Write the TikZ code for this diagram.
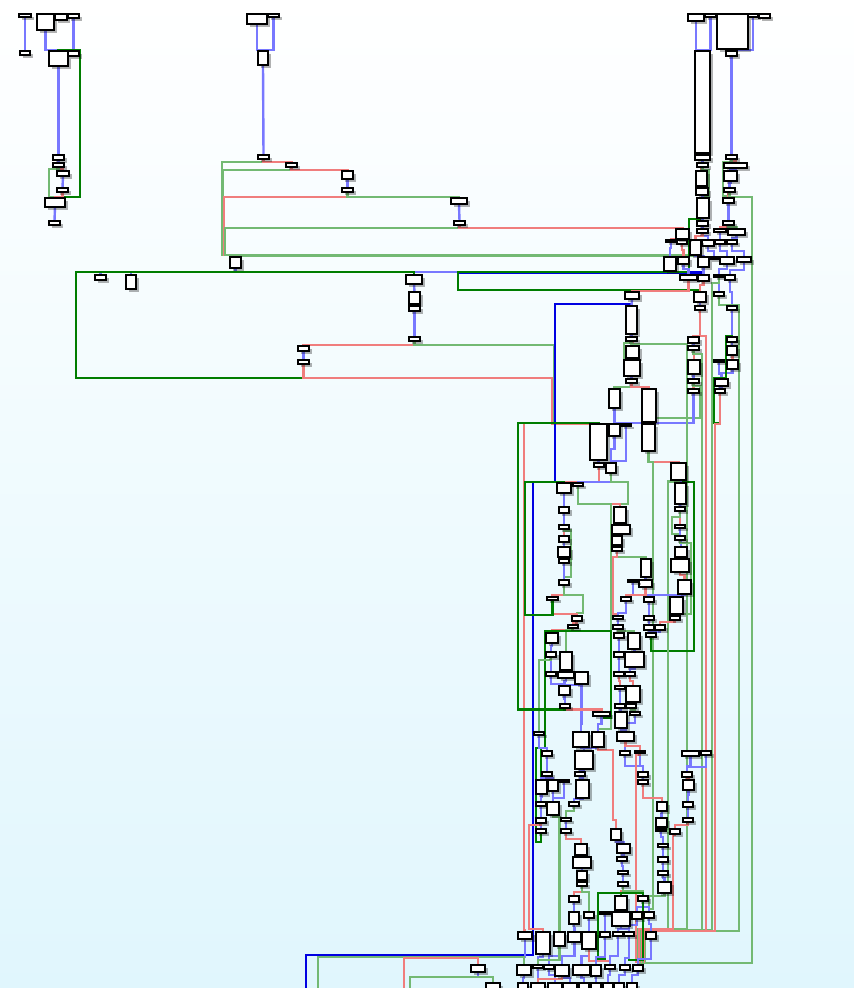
\documentclass[tikz,border=0pt]{standalone}
\usetikzlibrary{shadows}
\definecolor{cb}{RGB}{120,120,255}
\definecolor{cr}{RGB}{240,125,125}
\definecolor{cg}{RGB}{115,185,115}
\definecolor{cgd}{RGB}{0,125,0}
\definecolor{cbd}{RGB}{0,0,225}
\definecolor{bgb}{RGB}{224,246,253}
\pgfdeclarelayer{back}\pgfdeclarelayer{edges}
\pgfsetlayers{back,edges,main}
\tikzset{
 bx/.style={draw=black,line width=1.5pt,fill=white,inner sep=0pt,outer sep=0pt,
   drop shadow={shadow xshift=2.5pt,shadow yshift=-2.5pt,fill=black,opacity=0.3}},
 eb/.style={draw=cb,line width=2.4pt},
 er/.style={draw=cr,line width=2.4pt},
 eg/.style={draw=cg,line width=2.4pt},
 gd/.style={draw=cgd,line width=2.8pt},
 bd/.style={draw=cbd,line width=2.8pt}
}
\newcommand\bb[5]{%
 \pgfmathsetmacro\bbw{#4-#2}\pgfmathsetmacro\bbh{#5-#3}%
 \pgfmathsetmacro\bbx{(#2+#4)/2}\pgfmathsetmacro\bby{(#3+#5)/2}%
 \node[bx,minimum width=\bbw pt,minimum height=\bbh pt] (#1) at (\bbx,\bby) {};}
\begin{document}
\begin{tikzpicture}[x=1pt,y=-1pt]
\useasboundingbox (0,0) rectangle (854,988);
\begin{pgfonlayer}{back}
\shade[top color=white,bottom color=bgb] (0,0) rectangle (854,988);
\end{pgfonlayer}
% ---------- top left
\bb{a1}{19}{14}{31}{17}\bb{a2}{20}{51}{30}{55}
\bb{b1}{37}{14}{54}{30}\bb{b2}{55}{14}{67}{20}\bb{b3}{68}{14}{79}{18}
\bb{c1}{49}{51}{68}{66}\bb{c2}{68}{51}{79}{56}
\bb{d1}{53}{155}{64}{160}\bb{d2}{53}{163}{64}{167}\bb{d3}{57}{171}{69}{176}\bb{d4}{57}{188}{68}{192}
\bb{e1}{45}{198}{65}{207}\bb{e2}{49}{221}{60}{225}
% ---------- top middle
\bb{f1}{247}{14}{267}{24}\bb{f2}{268}{14}{279}{17}\bb{f3}{258}{51}{268}{65}
\bb{g1}{258}{155}{269}{159}\bb{h1}{286}{163}{297}{167}\bb{h2}{342}{171}{353}{179}\bb{h3}{342}{188}{353}{192}
\bb{h4}{451}{198}{467}{204}\bb{h5}{454}{221}{465}{225}\bb{i1}{230}{257}{241}{268}
\bb{l1}{95}{275}{106}{280}\bb{l2}{126}{275}{136}{289}
\bb{j1}{406}{275}{422}{284}\bb{j2}{409}{292}{420}{304}\bb{j3}{409}{306}{420}{311}\bb{j4}{409}{337}{420}{341}
\bb{k1}{298}{346}{309}{351}\bb{k2}{298}{360}{309}{364}
% ---------- top right cluster
\bb{n1}{688}{14}{704}{21}\bb{n2}{705}{14}{716}{17}\bb{n3}{717}{14}{748}{49}\bb{n4}{748}{14}{758}{17}\bb{n5}{759}{14}{770}{18}
\bb{p1}{695}{51}{710}{153}\bb{q1}{726}{51}{737}{56}
\bb{p2}{695}{155}{710}{160}\bb{p3}{697}{163}{708}{167}\bb{p4}{696}{171}{707}{186}\bb{p5}{696}{188}{708}{195}
\bb{p6}{697}{198}{709}{218}\bb{p7}{697}{221}{708}{226}\bb{p8}{697}{229}{708}{233}
\bb{q2}{726}{155}{737}{159}\bb{q3}{724}{163}{747}{168}\bb{q4}{724}{171}{737}{181}\bb{q5}{724}{188}{735}{192}
\bb{q6}{723}{198}{734}{203}\bb{q7}{723}{221}{734}{225}\bb{q8}{714}{229}{726}{232}\bb{q9}{728}{229}{745}{235}
\bb{q10}{715}{240}{725}{244}\bb{q11}{727}{240}{737}{244}
\bb{r1}{702}{240}{714}{246}\bb{r2}{690}{240}{701}{255}\bb{r3}{677}{240}{687}{244}\bb{r0}{666}{240}{676}{242}\bb{r4}{676}{229}{689}{239}
\bb{s1}{664}{257}{676}{271}\bb{s2}{678}{257}{689}{264}\bb{s3}{698}{257}{709}{267}\bb{s4}{709}{257}{719}{259}\bb{s5}{720}{257}{734}{264}\bb{s6}{737}{257}{751}{262}
\bb{t1}{680}{275}{697}{280}\bb{t2}{698}{275}{709}{281}\bb{t3}{714}{275}{724}{277}\bb{t4}{725}{275}{735}{280}
\bb{u1}{694}{292}{706}{302}\bb{u2}{695}{306}{705}{310}\bb{u3}{714}{292}{724}{296}\bb{u4}{727}{306}{737}{310}
\bb{v1}{688}{337}{699}{343}\bb{v2}{688}{346}{699}{350}\bb{v3}{688}{360}{700}{374}\bb{v4}{688}{379}{699}{383}\bb{v5}{688}{389}{699}{393}
\bb{w1}{727}{337}{737}{342}\bb{w2}{727}{346}{737}{355}\bb{w3}{727}{360}{738}{369}\bb{w0}{714}{360}{724}{362}\bb{w4}{715}{379}{728}{386}\bb{w5}{715}{389}{725}{393}
% ---------- centre column
\bb{m1}{625}{292}{639}{299}\bb{m2}{626}{306}{637}{334}\bb{m3}{626}{337}{637}{341}\bb{m4}{626}{346}{639}{358}
\bb{m5}{624}{360}{640}{376}\bb{m6}{626}{379}{637}{383}\bb{m7}{609}{389}{620}{408}\bb{m8}{642}{389}{656}{422}
\bb{m9}{590}{424}{607}{460}\bb{m10}{609}{424}{620}{436}\bb{m11}{621}{424}{631}{426}\bb{m12}{642}{424}{655}{451}
\bb{m13}{594}{463}{604}{467}\bb{m14}{606}{463}{616}{473}\bb{m15}{671}{463}{686}{480}
\bb{x1}{557}{483}{571}{493}\bb{x0}{573}{483}{583}{486}\bb{x2}{559}{507}{569}{513}\bb{x3}{559}{525}{569}{529}
\bb{x4}{559}{536}{569}{542}\bb{x5}{558}{547}{570}{557}\bb{x6}{559}{559}{569}{563}\bb{x7}{559}{580}{569}{585}
\bb{x8}{547}{597}{558}{600}\bb{y1}{572}{616}{582}{621}\bb{y2}{568}{625}{578}{628}
\bb{g1b}{546}{633}{558}{643}\bb{g2}{546}{652}{556}{657}\bb{g3}{560}{652}{572}{670}\bb{g4}{546}{672}{556}{676}
\bb{g5}{558}{672}{574}{678}\bb{g6}{575}{672}{588}{684}\bb{g7}{559}{686}{570}{695}\bb{y8}{560}{704}{570}{708}\bb{g9}{593}{712}{610}{716}
\bb{z1}{614}{507}{626}{523}\bb{z2}{612}{525}{630}{534}\bb{z3}{612}{536}{622}{545}\bb{z4}{612}{547}{622}{551}
\bb{z5}{641}{559}{651}{577}\bb{z6}{639}{580}{652}{587}\bb{z0}{628}{580}{638}{582}\bb{za}{621}{597}{631}{601}\bb{zb}{644}{597}{654}{602}
\bb{zc}{613}{616}{623}{619}\bb{ze}{644}{616}{654}{620}\bb{zf}{644}{625}{654}{630}\bb{zd}{655}{625}{665}{630}\bb{zg}{646}{633}{656}{637}
\bb{zh}{613}{625}{623}{629}\bb{zi}{614}{633}{624}{638}\bb{zj}{628}{633}{640}{649}\bb{zk}{614}{652}{624}{657}\bb{zl}{625}{652}{644}{667}
\bb{zm}{614}{672}{624}{676}\bb{zn}{625}{672}{635}{676}\bb{zo}{615}{686}{625}{689}\bb{zp}{626}{686}{640}{702}
\bb{zq}{615}{704}{625}{708}\bb{zr}{626}{704}{636}{708}\bb{zs}{630}{712}{640}{715}\bb{zt}{615}{712}{627}{728}
\bb{rc2}{675}{483}{686}{504}\bb{rc3}{675}{507}{685}{511}\bb{rc4}{675}{525}{685}{528}\bb{rc5}{675}{536}{685}{540}
\bb{rc6}{675}{547}{687}{557}\bb{rc7}{671}{559}{689}{572}\bb{rc8}{678}{580}{691}{594}\bb{rc9}{670}{597}{683}{614}\bb{rc10}{670}{616}{680}{620}
% ---------- lower part
\bb{k1b}{534}{732}{544}{735}\bb{k2b}{573}{732}{589}{747}\bb{k3}{592}{732}{604}{747}\bb{k4}{617}{732}{634}{741}
\bb{k5}{542}{751}{552}{756}\bb{k6}{575}{751}{593}{769}\bb{k7}{620}{751}{630}{755}\bb{k8}{635}{751}{645}{753}\bb{k9}{682}{751}{699}{756}\bb{k10}{701}{751}{711}{755}
\bb{l1b}{542}{772}{552}{776}\bb{l2b}{575}{772}{585}{776}\bb{l3}{638}{772}{648}{777}\bb{l4}{682}{772}{692}{777}
\bb{l5}{536}{780}{547}{794}\bb{l6}{548}{780}{558}{791}\bb{l7}{559}{780}{569}{782}\bb{l8}{576}{780}{589}{798}\bb{l9}{638}{780}{648}{784}\bb{l10}{683}{780}{694}{790}
\bb{o1}{536}{802}{546}{806}\bb{o2}{547}{802}{559}{815}\bb{o3}{569}{802}{579}{806}\bb{o4}{657}{802}{667}{811}\bb{o5}{683}{802}{693}{807}
\bb{o6}{536}{818}{546}{823}\bb{o7}{561}{818}{571}{821}\bb{o8}{656}{818}{667}{827}\bb{o9}{683}{818}{693}{822}
\bb{o10}{536}{829}{546}{833}\bb{o11}{561}{829}{571}{833}\bb{o12}{611}{829}{621}{840}\bb{o13}{656}{829}{666}{831}\bb{o14}{670}{829}{680}{834}
\bb{p1b}{658}{844}{668}{847}\bb{p2b}{617}{844}{630}{853}\bb{p3b}{575}{844}{587}{855}
\bb{p4b}{617}{857}{627}{861}\bb{p5b}{658}{857}{668}{862}\bb{p6b}{573}{857}{591}{868}
\bb{p7b}{618}{871}{628}{874}\bb{p8b}{658}{871}{668}{875}\bb{p9b}{577}{871}{587}{880}
\bb{p10b}{618}{882}{628}{886}\bb{p11b}{658}{882}{671}{893}\bb{p12b}{577}{882}{587}{886}
\bb{r1b}{615}{896}{627}{910}\bb{r2b}{638}{896}{648}{901}\bb{r3b}{569}{896}{579}{902}
\bb{r4b}{600}{912}{610}{914}\bb{r5b}{612}{912}{630}{926}\bb{r6b}{632}{912}{642}{919}\bb{r7b}{644}{912}{654}{918}\bb{r8b}{569}{912}{579}{924}\bb{r9b}{584}{912}{594}{918}
\bb{s1b}{600}{932}{610}{937}\bb{s2b}{613}{932}{623}{936}\bb{s3b}{624}{932}{634}{936}\bb{s4b}{646}{932}{656}{939}
\bb{s5b}{518}{932}{532}{939}\bb{s6b}{536}{932}{550}{954}\bb{s7b}{554}{932}{565}{946}\bb{s8b}{568}{932}{581}{942}\bb{s9b}{582}{932}{596}{949}
\bb{t0b}{471}{965}{485}{972}\bb{t1b}{517}{965}{531}{975}\bb{t2b}{533}{965}{543}{968}\bb{t3b}{544}{965}{554}{969}\bb{t4b}{555}{965}{569}{976}
\bb{t5b}{573}{965}{590}{975}\bb{t6b}{591}{965}{601}{976}\bb{t7b}{605}{965}{615}{969}\bb{t8b}{620}{965}{630}{970}\bb{t9b}{633}{965}{643}{971}
\bb{u0b}{486}{983}{500}{995}\bb{u1b}{518}{983}{528}{995}\bb{u2b}{531}{983}{545}{995}\bb{u3b}{548}{983}{562}{995}\bb{u4b}{563}{983}{577}{995}
\bb{u5b}{579}{983}{589}{995}\bb{u6b}{591}{983}{601}{995}\bb{u7b}{603}{983}{613}{995}\bb{u8b}{614}{983}{624}{995}\bb{u9b}{627}{983}{637}{995}
\coordinate (bl1) at (318,992);\coordinate (bl2) at (404,992);\coordinate (bl3) at (410,992);
\coordinate (bl4) at (455,992);\coordinate (bl5) at (407,992);\coordinate (bl6) at (306,992);

\begin{pgfonlayer}{edges}
% top left
\draw[eb] (a1.south) -- (a2.north);
\draw[eb] (b1.south) |- (58.5,50) -- (c1.north);
\draw[eb] (b3.south) |- (58.5,50) -- (c1.north);
\draw[gd] (e1.north) ++(8,0) -- (63,197) -- (80,197) -- (80,50) -- (58.5,50) -- (c1.north);
\draw[eb] (c1.south) -- (d1.north);
\draw[eb] (d1.south) -- (d2.north);
\draw[er] (d2.south) -- ++(0,2) -| (d3.north);
\draw[eg] (d2.south) -- ++(0,2) -| (49,197) -| (e1.north);
\draw[eb] (d3.south) -- (d4.north);
\draw[er] (d4.south) -- ++(0,5) -| (e1.north);
\draw[eb] (e1.south) -- (e2.north);
% top middle
\draw[eb] (f1.south) -- ++(0,26) -| (f3.north);
\draw[eb] (f2.south) -- ++(0,33) -| (f3.north);
\draw[eb] (f3.south) -- (g1.north);
\draw[eg] (g1.south) -- ++(0,3) -| (222,255) -| (i1.north);
\draw[er] (g1.south) -- ++(0,3) -| (h1.north);
\draw[eg] (h1.south) -- ++(0,3) -| (223,255) -| (i1.north);
\draw[er] (h1.south) -- ++(0,3) -| (h2.north);
\draw[eb] (h2.south) -- (h3.north);
\draw[er] (h3.south) -- ++(0,5) -| (224,255) -| (i1.north);
\draw[eg] (h3.south) -- ++(0,5) -| (h4.north);
\draw[eb] (h4.south) -- (h5.north);
\draw[eg] (h5.south) -- ++(0,3) -| (225,255) -| (i1.north);
\draw[er] (h5.south) -- ++(0,3) -| (r4.north);
\draw[eg] (r2.south) -- ++(0,0.5) -| (i1.north);
\draw[eb] (i1.south) -- ++(0,4) -| (l1.north);
\draw[eb] (i1.south) -- ++(0,4) -| (l2.north);
\draw[eb] (s1.south) |- (414,272) -- (j1.north);
\draw[gd] (k2.south) |- (76,378) -- (76,272) -| (j1.north);
\draw[bd] (s3.south) |- (458,272.5);
\draw[gd] (p7.north) ++(0,-2) -| (689,272) -- (458,272) -- (458,290) -| (u1.north);
\draw[eb] (j1.south) -- (j2.north);
\draw[eb] (j2.south) -- (j3.north);
\draw[eb] (j3.south) -- (j4.north);
\draw[er] (j4.south) -- ++(0,4) -| (k1.north);
\draw[eb] (k1.south) -- (k2.north);
\draw[eg] (j4.south) -- ++(0,4) -| (554,423) -| (m9.north);
\draw[er] (k2.south) |- (552,378) |- (m9.north);
\draw[er] (k2.south) |- (552,378) |- (524,423) |- (525,930) -| (s5b.north);
% right cluster
\draw[eb] (n1.south) -- ++(0,29) -| (p1.north);
\draw[eb] (n2.south) -- ++(0,33) -| (p1.north);
\draw[eb] (n3.south) -- ++(0,1) -| (q1.north);
\draw[eb] (n4.south) -- ++(0,33) -| (q1.north);
\draw[eb] (p1.south) -- (p2.north);
\draw[eb] (p2.south) -- (p3.north);
\draw[er] (p3.south) -- ++(0,2) -| (p4.north);
\draw[eg] (p3.south) -- ++(0,3) -| (709,196) -| (p6.north);
\draw[eb] (p4.south) -- ++(0,1) -| (p5.north);
\draw[eb] (p5.south) -- ++(0,1) -| (p6.north);
\draw[eb] (p6.south) -- ++(0,1) -| (p7.north);
\draw[eb] (p7.south) -- (p8.north);
\draw[eb] (q1.south) -- (q2.north);
\draw[er] (q2.south) -- ++(0,2) -| (q3.north);
\draw[eg] (q2.south) -- ++(0,3) -| (723,196) -| (q6.north);
\draw[eb] (q3.south) -- ++(0,1) -| (q4.north);
\draw[eb] (q4.south) -- ++(0,2) -| (q5.north);
\draw[er] (q5.south) -- ++(0,2) -| (q6.north);
\draw[eg] (q5.south) -- ++(0,5) -| (752,963) -| (t9b.north);
\draw[eb] (q6.south) -- (q7.north);
\draw[er] (q7.south) -- ++(0,2) -| (q8.north);
\draw[eg] (q7.south) -- ++(0,2) -| (q9.north);
\draw[eb] (q8.south) -- (q10.north);
\draw[eb] (q9.south) -- ++(0,3) -| (q11.north);
\draw[eb] (p8.south) -- ++(0,3) -| (r1.north);
\draw[er] (p8.south) -- ++(0,3) -| (r2.north);
\draw[eb] (r4.south) -- (r3.north);
\draw[er] (r4.south) -- ++(0,0.5) -| (r0.north);
\draw[eb] (r0.south) -- ++(0,6) -| (s1.north);
\draw[er] (r3.south) -- ++(0,6) -| (s2.north);
\draw[eb] (r2.south) -- ++(0,1) -| (s3.north);
\draw[eb] (r1.south) -- ++(0,5) -| (s4.north);
\draw[eb] (q10.south) -- ++(0,7) -| (s5.north);
\draw[eb] (q11.south) -- ++(0,7) -| (s6.north);
\draw[eb] (s2.south) -- ++(0,5) -| (t1.north);
\draw[eb] (s3.south) -- ++(0,4) -| (t2.north);
\draw[eb] (s5.south) -- ++(0,5) -| (t3.north);
\draw[eb] (s6.south) -- ++(0,8) -| (t4.north);
\draw[er] (t2.south) -- ++(0,4) -| (u1.north);
\draw[eb] (t3.south) -- (u3.north);
\draw[eb] (t4.south) -- ++(0,12) -| (u4.north);
\draw[er] (t1.south) |- (632,291) -- (m1.north);
\draw[eb] (u1.south) -- (u2.north);
\draw[er] (u3.south) -- ++(0,9) -| (u4.north);
\draw[eg] (u3.south) -- ++(0,9) -| (739,931) -| (645,962) -| (t9b.north);
\draw[eg] (t3.south) -- ++(0,6) -| (712,930) -| (642,962) -| (t9b.north);
\draw[eb] (u4.south) -- ++(0,18) -| (w1.north);
\draw[er] (u2.south) -- ++(0,26) -| (v1.north);
\draw[er] (u2.south) -- ++(0,26) -| (706,931) -| (644,962) -| (t9b.north);
\draw[eb] (v1.south) -- (v2.north);
\draw[er] (v2.south) -- ++(0,4) -| (v3.north);
\draw[eg] (v2.south) -- ++(0,4) -| (702,930) -| (643,962) -| (t9b.north);
\draw[eb] (v3.south) -- ++(0,2) -| (v4.north);
\draw[er] (v4.south) -- ++(0,2) -| (v5.north);
\draw[eg] (v4.south) -- ++(0,3) -| (700,418) -| (m8.north);
\draw[eb] (v5.south) -- ++(0,30) -| (m12.north);
\draw[eb] (v5.south) -- ++(0,30) -| (m10.north);
\draw[eb] (w1.south) -- (w2.north);
\draw[er] (w2.south) -- ++(0,2) -| (w3.north);
\draw[eb] (w3.south) -- ++(0,4) -| (w4.north);
\draw[eb] (w0.south) -- ++(0,12) -| (w4.north);
\draw[eb] (w4.south) -- ++(0,1) -| (w5.north);
\draw[gd] (w5.south) -- ++(0,30) -| (714,378) -| (726,336) -| (w1.north);
\draw[er] (w5.south) -- ++(0,31) -| (715,931) -| (641,962) -| (t9b.north);
% dark blue back edge
\draw[bd] (m2.north) -- (631.5,304) -- (555,304) -- (555,482) -- (533,482) -- (533,955) -- (306,955) -- (bl6);
% centre column
\draw[eb] (m1.south) -- (m2.north);
\draw[eb] (m2.south) -- (m3.north);
\draw[er] (m3.south) -- ++(0,2) -| (m4.north);
\draw[eg] (m3.south) -- ++(0,2) -| (624,358) -| (m5.north);
\draw[eg] (m3.south) -- ++(0,3) -| (687,929) -| (637,962) -| (t9b.north);
\draw[eb] (m4.south) -- ++(0,1) -| (m5.north);
\draw[eb] (m5.south) -- ++(0,1) -| (m6.north);
\draw[eg] (m6.south) -- ++(0,4) -| (m7.north);
\draw[er] (m6.south) -- ++(0,4) -| (m8.north);
\draw[eb] (m7.south) -- ++(0,8) -| (m10.north);
\draw[eb] (m8.south) -- ++(0,1) -| (m12.north);
\draw[eb] (m9.south) -- ++(0,1) -| (m13.north);
\draw[eb] (m10.south) -- ++(0,13) -| (m14.north);
\draw[eb] (m11.south) -- ++(0,35) -| (m14.north);
\draw[er] (m12.south) -- ++(0,11) -| (m15.north);
\draw[eg] (m12.south) -- ++(0,11) -| (653,909) -| (r7b.north);
\draw[er] (m13.south) -- ++(0,15) -| (x1.north);
\draw[eb] (m14.south) -- ++(0,9) -| (x0.north);
\draw[eg] (m14.south) -- ++(0,9) -| (628,504) -| (z1.north);
% right column
\draw[gd] (zg.south) -- ++(0,14) -| (694,482) -| (rc2.north);
\draw[eb] (m15.south) -- ++(0,1) -| (rc2.north);
\draw[eg] (m15.south) -- ++(0,1.5) -| (668,929) -| (640,962) -| (t9b.north);
\draw[eb] (rc2.south) -- (rc3.north);
\draw[er] (rc3.south) -- (rc4.north);
\draw[eg] (rc3.south) -- ++(0,6) -| (672,534) -| (rc5.north);
\draw[eb] (rc4.south) -- (rc5.north);
\draw[eb] (rc5.south) -- ++(0,2) -| (rc6.north);
\draw[eg] (rc5.south) -- ++(0,3) -| (691,614) -| (rc10.north);
\draw[eb] (rc6.south) -- ++(0,1) -| (rc7.north);
\draw[er] (rc7.south) -- ++(0,3) -| (rc8.north);
\draw[eb] (rc8.south) -- ++(0,1) -| (rc9.north);
\draw[eb] (rc9.south) -- ++(0,1) -| (rc10.north);
\draw[er] (rc10.south) -- ++(0,2) -| (zd.north);
\draw[eb] (rc8.south) -- ++(0,1) -| (zb.north);
\draw[eb] (z0.south) -- ++(0,13) -| (zb.north);
\draw[eb] (z6.south) -- ++(0,8) -| (zb.north);
\draw[er] (z6.south) -- ++(0,8) -| (za.north);
\draw[eb] (z5.south) -- ++(0,1) -| (z6.north);
\draw[eb] (zb.south) -- (ze.north);
\draw[eb] (ze.south) -- (zf.north);
\draw[eb] (zf.south) -- ++(0,1) -| (zg.north);
\draw[eb] (zd.south) -- ++(0,2) -| (zg.north);
% z column
\draw[er] (x0.south) -- ++(0,18) -| (z1.north);
\draw[eg] (x0.south) -- ++(0,18) -| (611,729) -| (k3.north);
\draw[eb] (z1.south) -- ++(0,1) -| (z2.north);
\draw[eb] (z2.south) -- ++(0,1) -| (z3.north);
\draw[eb] (z3.south) -- (z4.north);
\draw[eg] (z4.south) -- ++(0,6) -| (z5.north);
\draw[er] (z4.south) -- ++(0,6) -| (613,614) -| (zc.north);
\draw[eb] (za.south) -- ++(0,12) -| (zh.north);
\draw[eb] (zc.south) -- ++(0,3) -| (zh.north);
\draw[er] (zh.south) -- ++(0,2) -| (zi.north);
\draw[eg] (zh.south) -- ++(0,2) -| (zj.north);
\draw[eb] (zi.south) -- ++(0,7) -| (zk.north);
\draw[eb] (zj.south) -- ++(0,1) -| (zl.north);
\draw[eb] (zk.south) -- ++(0,7) -| (zm.north);
\draw[eb] (zl.south) -- ++(0,2) -| (zn.north);
\draw[er] (zm.south) -- ++(0,5) -| (zo.north);
\draw[er] (zn.south) -- ++(0,5) -| (zp.north);
\draw[eb] (zo.south) -- ++(0,7) -| (zq.north);
\draw[eb] (zp.south) -- ++(0,1) -| (zr.north);
\draw[eb] (zq.south) -- ++(0,2) -| (zt.north);
\draw[eg] (zr.south) -- ++(0,2) -| (zs.north);
\draw[eb] (zt.south) -- ++(0,2) -| (k4.north);
\draw[eb] (zs.south) -- ++(0,8) -| (k4.north);
% x column
\draw[eb] (x1.south) -- ++(0,4) -| (x2.north);
\draw[eb] (x2.south) -- (x3.north);
\draw[er] (x3.south) -- (x4.north);
\draw[eg] (x3.south) -- ++(0,1.5) -| (571,577) -| (x7.north);
\draw[eb] (x4.south) -- ++(0,2) -| (x5.north);
\draw[eb] (x5.south) -- ++(0,1) -| (x6.north);
\draw[eb] (x6.south) -- ++(0,8) -| (x7.north);
\draw[er] (x7.south) -- ++(0,10) -| (x8.north);
\draw[eg] (x7.south) -- ++(0,10) -| (583,613) -| (y1.north);
\draw[er] (x8.south) -- ++(0,14) -| (y1.north);
\draw[gd] (x8.south) -- ++(0,15) -| (525,482) -| (x1.north);
\draw[er] (y1.south) -- ++(0,2) -| (y2.north);
\draw[er] (y2.south) -- ++(0,2) -| (g1b.north);
\draw[eg] (y2.south) -- ++(0,2) -| (g3.north);
\draw[gd] (o10.south) -- ++(0,9) -| (541,748) -| (545,631) -| (g1b.north);
\draw[gd] (o10.south) -- ++(0,9) -| (536,748) -- (541,748);
\draw[gd] (g9.south) -- ++(0,2) -| (611,631) -| (g1b.north);
\draw[eb] (g1b.south) -- ++(0,3) -| (g2.north);
\draw[eb] (g2.south) -- ++(0,6) -| (g4.north);
\draw[eg] (g2.south) -- ++(0,3) -| (539,729) -| (k1b.north);
\draw[eb] (g3.south) -- ++(0,1) -| (g5.north);
\draw[eb] (g4.south) -- ++(0,8) -| (g7.north);
\draw[eb] (g5.south) -- ++(0,3) -| (g7.north);
\draw[eb] (g6.south) -- ++(0,1) -| (g7.north);
\draw[eb] (g6.south) -- ++(0,40) -| (k2b.north);
\draw[eb] (g7.south) -- ++(0,4) -| (y8.north);
\draw[er] (y8.south) -- ++(0,1.5) -| (g9.north);
\draw[gd] (y8.south) -- ++(0,1.5) -| (518,423) -| (m9.north);
\draw[eb] (g9.south) -- ++(0,8) -| (k3.north);
% lower
\draw[eb] (k1b.south) -- ++(0,13) -| (k5.north);
\draw[eb] (k2b.south) -- ++(0,1) -| (k6.north);
\draw[eb] (k3.south) -- ++(0,1) -| (k6.north);
\draw[er] (k3.south) -- ++(0,3) -| (613,820) -| (o12.north);
\draw[eb] (k4.south) -- ++(0,5) -| (k7.north);
\draw[er] (k4.south) -- ++(0,5) -| (k8.north);
\draw[eb] (k5.south) -- ++(0,6) -| (l1b.north);
\draw[eb] (l1b.south) -- ++(0,2) -| (l5.north);
\draw[eb] (l1b.south) -- ++(0,2) -| (l6.north);
\draw[eb] (k6.south) -- ++(0,1) -| (l2b.north);
\draw[eb] (l2b.south) -- ++(0,2) -| (l8.north);
\draw[eb] (k7.south) -- ++(0,11) -| (l3.north);
\draw[eb] (k8.south) -- ++(0,13) -| (l3.north);
\draw[er] (k8.south) -- ++(0,2) -| (636,962) -| (t9b.north);
\draw[eb] (k9.south) -- ++(0,10) -| (l4.north);
\draw[eb] (k10.south) -- ++(0,12) -| (l4.north);
\draw[eb] (l3.south) -- ++(0,1) -| (l9.north);
\draw[er] (l9.south) -- ++(0,14) -| (o4.north);
\draw[er] (l4.south) -- ++(0,1) -| (l10.north);
\draw[eb] (l10.south) -- ++(0,5) -| (o5.north);
\draw[eb] (o5.south) -- ++(0,5) -| (o9.north);
\draw[er] (o9.south) -- ++(0,3) -| (o14.north);
\draw[eb] (o4.south) -- ++(0,3) -| (o8.north);
\draw[eb] (o8.south) -- ++(0,1) -| (o13.north);
\draw[eb] (o13.south) -- ++(0,6) -| (p1b.north);
\draw[eb] (p1b.south) -- ++(0,4) -| (p5b.north);
\draw[eb] (p5b.south) -- ++(0,4) -| (p8b.north);
\draw[eb] (p8b.south) -- ++(0,3) -| (p11b.north);
\draw[eg] (p11b.south) -- ++(0,3) -| (r7b.north);
\draw[er] (o14.south) -- ++(0,1) -| (673,929) -| (639,962) -| (t9b.north);
\draw[eb] (r2b.south) -- ++(0,6) -| (r6b.north);
\draw[eb] (r2b.south) -- ++(0,6) -| (r7b.north);
\draw[eb] (l5.south) -- ++(0,3) -| (o1.north);
\draw[eb] (l6.south) -- ++(0,6) -| (o2.north);
\draw[eb] (l7.south) -- ++(0,16) -| (o2.north);
\draw[eb] (l8.south) -- ++(0,1) -| (o3.north);
\draw[eb] (o1.south) -- ++(0,5) -| (o6.north);
\draw[eb] (o6.south) -- ++(0,2) -| (o10.north);
\draw[eg] (o3.south) -- ++(0,5) -| (o7.north);
\draw[eb] (o7.south) -- ++(0,3) -| (o11.north);
\draw[er] (o11.south) -- ++(0,6) -| (p3b.north);
\draw[eg] (o2.south) -- ++(0,2) -| (s7b.north);
\draw[er] (o6.south) -- ++(0,2) -| (529,929) -| (s6b.north);
\draw[eb] (p3b.south) -- ++(0,1) -| (p6b.north);
\draw[eb] (p6b.south) -- ++(0,1) -| (p9b.north);
\draw[eb] (p9b.south) -- ++(0,1) -| (p12b.north);
\draw[er] (p12b.south) -- ++(0,6) -| (r3b.north);
\draw[eg] (p12b.south) -- ++(0,6) -| (r9b.north);
\draw[eb] (r3b.south) -- ++(0,5) -| (r8b.north);
\draw[eb] (o12.south) -- ++(0,2) -| (p2b.north);
\draw[eb] (p2b.south) -- ++(0,2) -| (p4b.north);
\draw[eb] (p4b.south) -- ++(0,5) -| (p7b.north);
\draw[eb] (p7b.south) -- ++(0,4) -| (p10b.north);
\draw[er] (p10b.south) -- ++(0,5) -| (r1b.north);
\draw[eg] (p10b.south) -- ++(0,5) -| (r2b.north);
\draw[eb] (r1b.south) -- ++(0,1) -| (r5b.north);
\draw[eb] (r4b.south) -- ++(0,8) -| (s1b.north);
\draw[eb] (r5b.south) -- ++(0,3) -| (s2b.north);
\draw[eb] (r5b.south) -- ++(0,3) -| (s3b.north);
\draw[eb] (r6b.south) -- ++(0,6) -| (s3b.north);
\draw[eb] (r7b.south) -- ++(0,6) -| (s4b.north);
\draw[eb] (r8b.south) -- ++(0,4) -| (s8b.north);
\draw[eb] (r9b.south) -- ++(0,4) -| (s9b.north);
\draw[gd] (s1b.south) -- ++(0,22) -| (598,893) -| (r1b.north);
\draw[gd] (s3b.south) -- ++(0,24) -| (643,893) -| (r1b.north);
% s -> t -> u
\draw[eb] (s5b.south) -- ++(0,18) -| (t0b.north);
\draw[eb] (s5b.south) -- ++(0,18) -| (t1b.north);
\draw[eb] (s6b.south) -- ++(0,3) -| (t2b.north);
\draw[eb] (s7b.south) -- ++(0,10) -| (t3b.north);
\draw[eg] (s7b.south) -- ++(0,14) -| (t2b.north);
\draw[eb] (s8b.south) -- ++(0,14) -| (t4b.north);
\draw[eb] (s9b.south) -- ++(0,7) -| (t5b.north);
\draw[er] (s9b.south) -- ++(0,12) -| (t7b.north);
\draw[eb] (s1b.south) -- ++(0,20) -| (t6b.north);
\draw[eb] (s2b.south) -- ++(0,20) -| (t7b.north);
\draw[eb] (s3b.south) -- ++(0,22) -| (t8b.north);
\draw[eb] (s4b.south) -- ++(0,20) -| (t9b.north);
\draw[eb] (t0b.south) -- ++(0,5) -| (u0b.north);
\draw[eb] (t1b.south) -- ++(0,3) -| (u1b.north);
\draw[eb] (t2b.south) -- ++(0,6) -| (u2b.north);
\draw[eb] (t3b.south) -- ++(0,6) -| (u3b.north);
\draw[eb] (t4b.south) -- ++(0,2) -| (u4b.north);
\draw[er] (t4b.south) -- ++(0,3) -| (u2b.north);
\draw[eb] (t5b.south) -- ++(0,3) -| (u5b.north);
\draw[eb] (t6b.south) -- ++(0,2) -| (u6b.north);
\draw[eb] (t7b.south) -- ++(0,6) -| (u7b.north);
\draw[eb] (t8b.south) -- ++(0,5) -| (u8b.north);
\draw[eb] (t9b.south) -- ++(0,4) -| (u9b.north);
\draw[eg] (bl1) |- (524,957) -| (t1b.north);
\draw[er] (bl2) |- (476,958) -| (t0b.north);
\draw[eg] (bl3) |- (493,977) -- (u0b.north);
\draw[gd] (bl4) |- (bl5);
\end{pgfonlayer}
\end{tikzpicture}
\end{document}
